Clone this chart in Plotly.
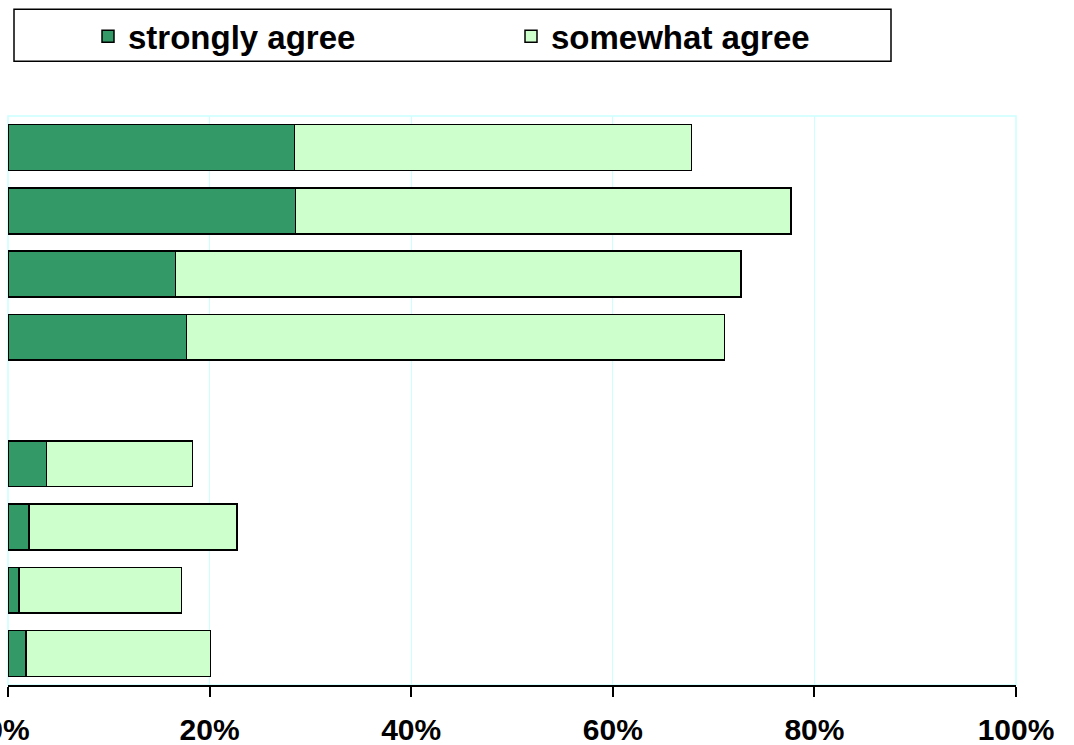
import plotly.graph_objects as go

categories = ["Item 1", "Item 2", "Item 3", "Item 4", " ", "Item 5", "Item 6", "Item 7", "Item 8"]
strongly_agree = [28.4, 28.5, 16.6, 17.7, None, 3.8, 2.1, 1.1, 1.8]
somewhat_agree = [39.4, 49.2, 56.1, 53.4, None, 14.5, 20.6, 16.1, 18.3]
tick_vals = [0, 20, 40, 60, 80, 100]
tick_text = ["0%", "20%", "40%", "60%", "80%", "100%"]

W, H = 1074, 745
ML, MR, MT, MB = 8, 58, 114, 60
pw, ph = W - ML - MR, H - MT - MB

fig = go.Figure()
fig.add_trace(go.Bar(y=categories, x=strongly_agree, orientation="h", name="strongly agree",
                     marker=dict(color="#339966", line=dict(color="#000000", width=1.5))))
fig.add_trace(go.Bar(y=categories, x=somewhat_agree, orientation="h", name="somewhat agree",
                     marker=dict(color="#CCFFCC", line=dict(color="#000000", width=1.5))))

def px_x(p):
    return (p - ML) / pw

def px_y(p):
    return (H - MB - p) / ph

fig.update_layout(
    width=W, height=H,
    margin=dict(l=ML, r=MR, t=MT, b=MB),
    barmode="stack", bargap=0.275,
    plot_bgcolor="white", paper_bgcolor="white",
    font=dict(family="Liberation Sans, Arial, sans-serif", color="#000000"),
    showlegend=True,
    legend=dict(orientation="h", x=px_x(88), y=px_y(6), xanchor="left", yanchor="top",
                font=dict(size=33, family="Liberation Sans, Arial, sans-serif", weight="bold"),
                entrywidth=378, entrywidthmode="pixels", bgcolor="rgba(0,0,0,0)",
                traceorder="normal"),
    xaxis=dict(range=[0, 100], tickvals=tick_vals, ticktext=tick_text,
               showgrid=True, gridcolor="#CCFFFF", gridwidth=1,
               showline=True, linecolor="#000000", linewidth=1.5,
               ticks="outside", ticklen=10, tickcolor="#000000", tickwidth=1.5,
               tickfont=dict(size=30, weight="bold"), zeroline=False, automargin=False,
               ticklabeloverflow="allow", ticklabelstandoff=7,
               fixedrange=True),
    yaxis=dict(autorange="reversed", showticklabels=False, showgrid=False, zeroline=False,
               showline=False, automargin=False, fixedrange=True),
    shapes=[
        dict(type="rect", xref="paper", yref="paper", x0=0, x1=1, y0=0, y1=1,
             line=dict(color="#CCFFFF", width=1.5), layer="below"),
        dict(type="rect", xref="paper", yref="paper", x0=px_x(14), x1=px_x(891),
             y0=px_y(59), y1=px_y(7), line=dict(color="#000000", width=1.5)),
    ],
)

fig.write_html("out.html")
